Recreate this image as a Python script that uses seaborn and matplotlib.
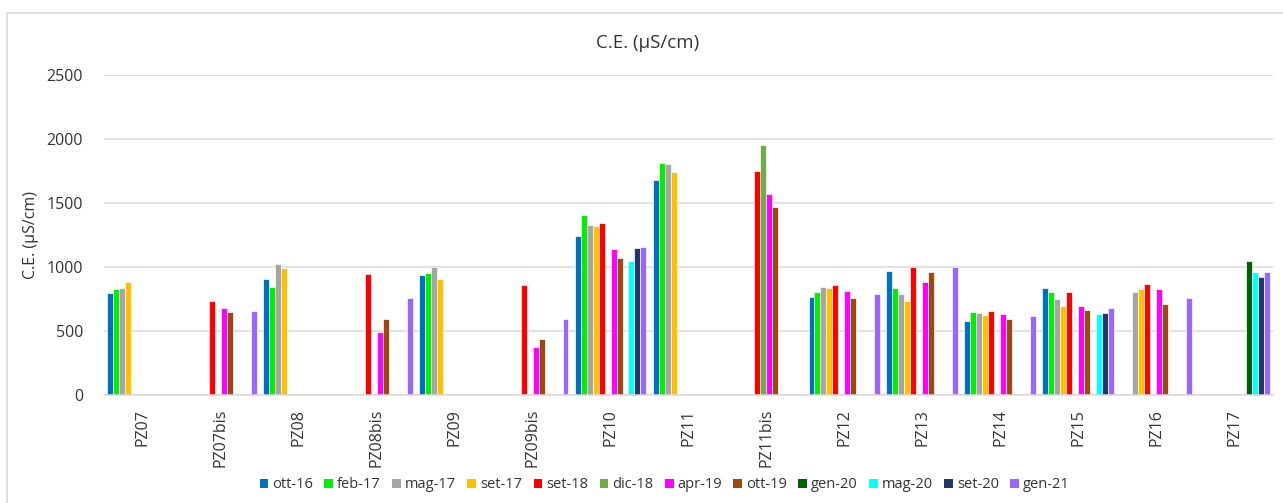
import numpy as np
import pandas as pd
import matplotlib
matplotlib.use("Agg")
import matplotlib.pyplot as plt
from matplotlib.patches import Patch
from matplotlib.lines import Line2D
import seaborn as sns

nan = np.nan

# Monitoring wells
wells = ["PZ07", "PZ07bis", "PZ08", "PZ08bis", "PZ09", "PZ09bis", "PZ10", "PZ11",
         "PZ11bis", "PZ12", "PZ13", "PZ14", "PZ15", "PZ16", "PZ17"]

# Electrical conductivity (µS/cm) per sampling campaign, one value per well
ott_16 = [793, nan, 910, nan, 938, nan, 1244, 1682, nan, 769, 967, 582, 839, nan, nan]
feb_17 = [829, nan, 840, nan, 953, nan, 1405, 1812, nan, 804, 837, 645, 802, nan, nan]
mag_17 = [835, nan, 1021, nan, 1003, nan, 1330, 1807, nan, 843, 787, 638, 750, 807, nan]
set_17 = [886, nan, 990, nan, 904, nan, 1317, 1739, nan, 837, 735, 625, 693, 831, nan]
set_18 = [nan, 736, nan, 943, nan, 860, 1343, nan, 1750, 856, 1001, 658, 802, 865, nan]
dic_18 = [nan, nan, nan, nan, nan, nan, nan, nan, 1950, nan, nan, nan, nan, nan, nan]
apr_19 = [nan, 680, nan, 491, nan, 372, 1142, nan, 1567, 816, 881, 631, 698, 831, nan]
ott_19 = [nan, 651, nan, 597, nan, 439, 1074, nan, 1468, 761, 962, 595, 661, 714, nan]
gen_20 = [nan, nan, nan, nan, nan, nan, nan, nan, nan, nan, nan, nan, nan, nan, 1044]
mag_20 = [nan, nan, nan, nan, nan, nan, 1043, nan, nan, nan, nan, nan, 630, nan, 964]
set_20 = [nan, nan, nan, nan, nan, nan, 1150, nan, nan, nan, nan, nan, 643, nan, 919]
gen_21 = [nan, 654, nan, 754, nan, 597, 1155, nan, nan, 787, 1001, 619, 680, 755, 964]

campaigns = ["ott-16", "feb-17", "mag-17", "set-17", "set-18", "dic-18",
             "apr-19", "ott-19", "gen-20", "mag-20", "set-20", "gen-21"]
series = [ott_16, feb_17, mag_17, set_17, set_18, dic_18,
          apr_19, ott_19, gen_20, mag_20, set_20, gen_21]

colors = ["#0070C0", "#00F000", "#A5A5A5", "#FFC000", "#FF0000", "#70AD47",
          "#FF00FF", "#9E480E", "#006100", "#00FFFF", "#203864", "#9966FF"]
palette = dict(zip(campaigns, colors))

rows = []
for name, vals in zip(campaigns, series):
    for w, v in zip(wells, vals):
        rows.append({"well": w, "campaign": name, "ce": v})
df = pd.DataFrame(rows).dropna()

sns.set_theme(style="white")
plt.rcParams["font.family"] = ["Open Sans", "DejaVu Sans"]
text_color = "#333333"

fig = plt.figure(figsize=(12.83, 5.03), dpi=100)
ax = fig.add_axes([0.08106, 0.21471, 0.91115, 0.63618])

sns.barplot(data=df, x="well", y="ce", hue="campaign", order=wells,
            hue_order=campaigns, palette=palette, width=0.92, errorbar=None,
            edgecolor="white", linewidth=0.5, saturation=1, legend=False, ax=ax)

ax.set_ylim(0, 2500)
ax.set_xlim(-0.5, len(wells) - 0.5)
ax.set_yticks(np.arange(0, 2501, 500))
ax.yaxis.grid(True, color="#D9D9D9", linewidth=1.1)
ax.set_axisbelow(True)
for s in ["left", "right", "top"]:
    ax.spines[s].set_visible(False)
ax.spines["bottom"].set_color("#D9D9D9")
ax.spines["bottom"].set_linewidth(1.1)

ax.tick_params(axis="y", length=0, pad=15, labelsize=11.5, labelcolor=text_color)
ax.tick_params(axis="x", length=0, pad=10, labelsize=11.5, labelcolor=text_color,
               labelrotation=90)
ax.set_xlabel("")
ax.set_ylabel("C.E. (µS/cm)", fontsize=11.5, color=text_color)
ax.yaxis.set_label_coords(-0.0556, 0.5)

fig.text(0.505, 0.915, "C.E. (µS/cm)", ha="center", va="center",
         fontsize=13.5, color=text_color)

handles = [Patch(facecolor=c, edgecolor="none") for c in colors]
fig.legend(handles, campaigns, loc="center", bbox_to_anchor=(0.518, 0.036),
           ncol=12, frameon=False, fontsize=10.5, handlelength=0.6,
           handleheight=0.6, handletextpad=0.25, columnspacing=0.8,
           labelcolor=text_color)

# Chart area frame (left and top edges)
fig.add_artist(Line2D([7 / 1283, 7 / 1283], [0, 1 - 13 / 503], transform=fig.transFigure,
                      color="#D9D9D9", linewidth=1.2))
fig.add_artist(Line2D([7 / 1283, 1], [1 - 13 / 503, 1 - 13 / 503], transform=fig.transFigure,
                      color="#D9D9D9", linewidth=1.2))

fig.savefig("out.png", dpi=100, facecolor="white")
